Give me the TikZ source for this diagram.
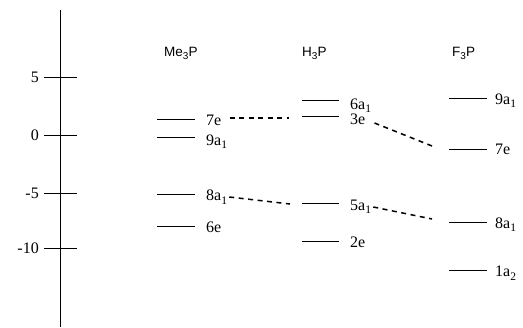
\documentclass[tikz,border=0pt]{standalone}
\usepackage{fontspec}
\setmainfont{Liberation Serif}
\newfontfamily\hdfont{Liberation Sans}
\newcommand\lsub[1]{\raisebox{-3.5pt}{\fontsize{11.5}{11.5}\selectfont #1}}
\newcommand\hsub[1]{\raisebox{-3pt}{\fontsize{10}{10}\selectfont #1}}
\begin{document}
\begin{tikzpicture}[x=1pt,y=-1pt,
  lvl/.style={line width=1.3pt},
  lab/.style={anchor=base west,inner sep=0pt,font=\fontsize{16}{16}\selectfont},
  hdr/.style={anchor=base west,inner sep=0pt,font=\hdfont\fontsize{13.5}{13.5}\selectfont},
  tlab/.style={anchor=base east,inner sep=0pt,font=\fontsize{16}{16}\selectfont},
  conn/.style={line width=1.5pt,dash pattern=on 5pt off 4.5pt}]
\useasboundingbox (0,0) rectangle (523,328);
% axis
\draw[line width=1pt] (60.5,10) coordinate (atop) -- (60.5,327) coordinate (abot);
\foreach \yy/\tx/\nm in {77.5/5/t5, 135.5/0/t0, 193.5/-5/tm5, 248.5/-10/tm10}{
  \draw[line width=1pt] (44,\yy) -- (76.5,\yy);
  \node[tlab] (\nm) at (39,\yy+5.5) {\tx};
}
% headers
\node[hdr] (hme) at (164,57) {Me\hsub{3}P};
\node[hdr] (hh) at (302,57) {H\hsub{3}P};
\node[hdr] (hf) at (452,57) {F\hsub{3}P};
% Me3P
\draw[lvl] (157,119.5) -- (195,119.5);
\draw[lvl] (157,137.5) -- (195,137.5);
\draw[lvl] (157,194.5) -- (195,194.5);
\draw[lvl] (157,226.5) -- (195,226.5);
\node[lab] (me7e) at (206,125.5) {7e};
\node[lab] (me9a) at (206,145.5) {9a\lsub{1}};
\node[lab] (me8a) at (206,201) {8a\lsub{1}};
\node[lab] (me6e) at (206,233) {6e};
% H3P
\draw[lvl] (302,100.5) -- (339,100.5);
\draw[lvl] (302,116.5) -- (339,116.5);
\draw[lvl] (302,203.5) -- (339,203.5);
\draw[lvl] (302,241.5) -- (339,241.5);
\node[lab] (h6a) at (350,109.5) {6a\lsub{1}};
\node[lab] (h3e) at (350,125) {3e};
\node[lab] (h5a) at (350,210.5) {5a\lsub{1}};
\node[lab] (h2e) at (350,247.5) {2e};
% F3P
\draw[lvl] (449,98.5) -- (487,98.5);
\draw[lvl] (449,149.5) -- (487,149.5);
\draw[lvl] (449,222.5) -- (487,222.5);
\draw[lvl] (449,270.5) -- (487,270.5);
\node[lab] (f9a) at (495,104.5) {9a\lsub{1}};
\node[lab] (f7e) at (495,155) {7e};
\node[lab] (f8a) at (495,228.5) {8a\lsub{1}};
\node[lab] (f1a) at (495,277) {1a\lsub{2}};
% connectors
\coordinate (c1) at (289,118);
\coordinate (c2) at (432,146);
\coordinate (c3) at (290,204);
\coordinate (c4) at (432,219);
\draw[conn] ([xshift=8pt]me7e.east |- 0,118) -- (c1);
\draw[conn] ([xshift=9pt]h3e.east |- 0,123) -- (c2);
\draw[conn] ([xshift=2pt]me8a.east |- 0,197) -- (c3);
\draw[conn] ([xshift=2pt]h5a.east |- 0,207) -- (c4);
\end{tikzpicture}
\end{document}
